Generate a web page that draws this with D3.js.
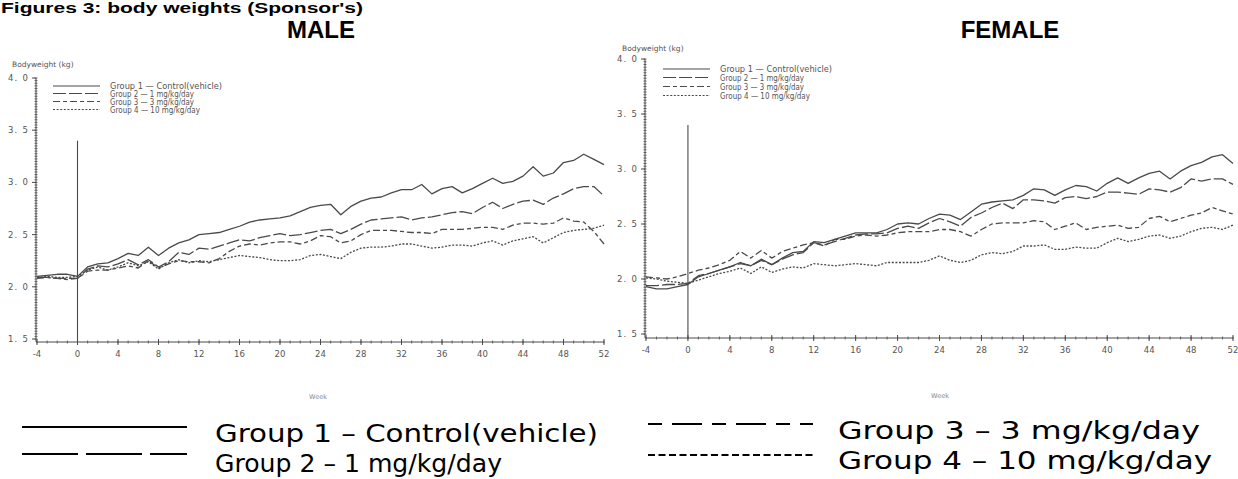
<!DOCTYPE html>
<html>
<head>
<meta charset="utf-8">
<script src="https://cdn.jsdelivr.net/npm/d3@7"></script>
<style>
  body { margin: 0; background: #fff; }
  svg { display: block; }
</style>
</head>
<body>
<svg id="chart" width="1238" height="479"></svg>
<script>
// ---- data -------------------------------------------------------------
const weeks = d3.range(-4, 53);                 // study weeks -4 .. 52
const xTickValues = d3.range(-4, 53, 4);
const yTickValues = [1.5, 2.0, 2.5, 3.0, 3.5, 4.0];
const groupLabels = [
  "Group 1 \u2014 Control(vehicle)",
  "Group 2 \u2014 1 mg/kg/day",
  "Group 3 \u2014 3 mg/kg/day",
  "Group 4 \u2014 10 mg/kg/day"
];
const bigLegendLabels = [
  "Group 1 \u2013 Control(vehicle)",
  "Group 2 \u2013 1 mg/kg/day",
  "Group 3 \u2013 3 mg/kg/day",
  "Group 4 \u2013 10 mg/kg/day"
];
const dosingStartWeek = 0;
const dosingMarkerTop = 3.4;

// male mean body weight (kg)
const maleG1 = [2.10,2.11,2.12,2.12,2.10, 2.19,2.22,2.23,2.27,2.32,2.30,2.38,2.30,2.37,2.42,2.45,2.50,2.51,2.52,2.55,2.58,2.62,2.64,2.65,2.66,2.68,2.72,2.76,2.78,2.79,2.69,2.77,2.82,2.85,2.86,2.90,2.93,2.93,2.98,2.89,2.94,2.96,2.90,2.94,2.99,3.04,2.99,3.01,3.06,3.15,3.06,3.09,3.19,3.21,3.27,3.22,3.17];
const maleG2 = [2.09,2.09,2.08,2.08,2.08, 2.17,2.20,2.19,2.22,2.26,2.21,2.26,2.19,2.24,2.33,2.31,2.37,2.36,2.39,2.42,2.45,2.44,2.47,2.49,2.51,2.49,2.50,2.52,2.54,2.55,2.51,2.55,2.60,2.64,2.65,2.66,2.67,2.64,2.66,2.67,2.69,2.71,2.72,2.70,2.76,2.81,2.75,2.79,2.82,2.83,2.79,2.85,2.89,2.94,2.96,2.96,2.87];
const maleG3 = [2.08,2.09,2.08,2.07,2.08, 2.15,2.16,2.16,2.18,2.20,2.18,2.25,2.18,2.22,2.25,2.24,2.24,2.23,2.27,2.34,2.39,2.41,2.40,2.42,2.43,2.43,2.41,2.44,2.49,2.48,2.42,2.44,2.50,2.54,2.54,2.54,2.53,2.52,2.52,2.51,2.55,2.55,2.55,2.56,2.57,2.57,2.55,2.59,2.61,2.61,2.60,2.61,2.66,2.63,2.62,2.53,2.41];
const maleG4 = [2.09,2.10,2.09,2.09,2.10, 2.16,2.19,2.16,2.19,2.23,2.20,2.24,2.17,2.23,2.26,2.23,2.25,2.24,2.26,2.28,2.30,2.29,2.28,2.26,2.25,2.25,2.26,2.30,2.31,2.29,2.27,2.33,2.37,2.38,2.38,2.39,2.41,2.41,2.39,2.37,2.38,2.40,2.40,2.39,2.42,2.44,2.40,2.44,2.46,2.48,2.42,2.47,2.52,2.54,2.55,2.56,2.59];

// female mean body weight (kg)
const femaleG1 = [1.93,1.91,1.91,1.93,1.95, 2.02,2.05,2.08,2.11,2.15,2.12,2.18,2.13,2.19,2.24,2.25,2.34,2.33,2.36,2.39,2.42,2.42,2.42,2.45,2.50,2.51,2.50,2.55,2.59,2.58,2.54,2.61,2.68,2.70,2.71,2.72,2.76,2.82,2.81,2.76,2.81,2.85,2.84,2.80,2.87,2.92,2.87,2.92,2.96,2.98,2.91,2.98,3.03,3.06,3.11,3.13,3.05];
const femaleG2 = [1.94,1.94,1.95,1.95,1.96, 2.03,2.05,2.08,2.11,2.14,2.12,2.17,2.13,2.18,2.22,2.24,2.33,2.31,2.34,2.37,2.40,2.41,2.41,2.42,2.46,2.48,2.46,2.51,2.55,2.52,2.48,2.56,2.60,2.65,2.69,2.64,2.72,2.72,2.71,2.69,2.74,2.75,2.73,2.75,2.79,2.79,2.78,2.77,2.82,2.81,2.79,2.83,2.91,2.89,2.91,2.91,2.86];
const femaleG3 = [2.02,2.01,2.00,2.02,2.05, 2.08,2.10,2.13,2.17,2.25,2.19,2.26,2.19,2.25,2.28,2.31,2.33,2.30,2.36,2.36,2.39,2.40,2.39,2.40,2.42,2.43,2.43,2.43,2.45,2.45,2.43,2.39,2.45,2.50,2.51,2.51,2.51,2.53,2.52,2.45,2.48,2.51,2.45,2.47,2.48,2.49,2.46,2.47,2.55,2.57,2.52,2.55,2.58,2.60,2.65,2.62,2.59];
const femaleG4 = [2.01,2.00,1.98,1.97,1.96, 1.99,2.02,2.05,2.07,2.10,2.05,2.11,2.06,2.09,2.11,2.10,2.14,2.13,2.12,2.13,2.14,2.13,2.12,2.15,2.15,2.15,2.15,2.17,2.21,2.17,2.15,2.17,2.22,2.24,2.23,2.25,2.30,2.30,2.31,2.27,2.27,2.29,2.28,2.28,2.33,2.37,2.34,2.36,2.39,2.40,2.37,2.39,2.43,2.46,2.47,2.45,2.49];

// ---- styles -----------------------------------------------------------
const ink = "#4a4a4a";
const dashes = [null, "13,3", "7,3,4,3", "2,1.6"];
const bigDashes = [null, "56,8", "14,10,30,10", "7,3.5"];
const tickFont = "'DejaVu Sans', sans-serif";

const svg = d3.select("#chart");

// page title along the top edge of the sheet
svg.append("text")
  .attr("x", 1).attr("y", 13)
  .attr("font-family", "'Liberation Sans', Arial, sans-serif")
  .attr("font-weight", "bold").attr("font-size", 14)
  .attr("textLength", 362).attr("lengthAdjust", "spacingAndGlyphs")
  .text("Figures 3: body weights (Sponsor's)");

// ---- one panel --------------------------------------------------------
function drawPanel(p) {
  const g = svg.append("g");
  const x = d3.scaleLinear().domain([-4, 52]).range([p.x0, p.x1]);
  const y = d3.scaleLinear().domain([1.5, 4.0]).range([p.yBottom, p.yTop]);
  const axisY = p.yBottom + p.axisGap;

  g.append("text")
    .attr("x", p.headerX).attr("y", 37.5)
    .attr("text-anchor", "middle")
    .attr("font-family", "'Liberation Sans', Arial, sans-serif")
    .attr("font-weight", "bold").attr("font-size", 24)
    .attr("fill", "#000")
    .text(p.title);

  // y axis: major ticks with labels, dense minor ticks
  g.append("line")
    .attr("x1", p.x0 - 1).attr("x2", p.x0 - 1)
    .attr("y1", y(4.0)).attr("y2", axisY)
    .attr("stroke", ink).attr("stroke-width", 1);
  const minorY = d3.range(1.5, 4.0001, 0.025);
  g.selectAll(".ymin").data(minorY).join("line")
    .attr("x1", p.x0 - 2.5).attr("x2", p.x0 + 0.5)
    .attr("y1", d => y(d)).attr("y2", d => y(d))
    .attr("stroke", ink).attr("stroke-width", 0.8);
  g.selectAll(".ymaj").data(yTickValues).join("line")
    .attr("x1", p.x0 - 5).attr("x2", p.x0 - 1)
    .attr("y1", d => y(d)).attr("y2", d => y(d))
    .attr("stroke", ink).attr("stroke-width", 1);
  g.selectAll(".ylab").data(yTickValues).join("text")
    .attr("x", p.x0 - 8).attr("y", d => y(d) + 3)
    .attr("text-anchor", "end")
    .attr("font-family", tickFont).attr("font-size", 8.5)
    .attr("letter-spacing", 1.2)
    .attr("fill", "#555")
    .text(d => d3.format(".1f")(d).replace(".", ". "));

  g.append("text")
    .attr("x", p.yLabelX).attr("y", p.yLabelY)
    .attr("font-family", tickFont).attr("font-size", 7.5)
    .attr("fill", "#555")
    .text("Bodyweight (kg)");

  // x axis: a tick every week, labels every 4 weeks
  g.append("line")
    .attr("x1", p.x0 - 1).attr("x2", p.x1)
    .attr("y1", axisY).attr("y2", axisY)
    .attr("stroke", ink).attr("stroke-width", 1);
  g.selectAll(".xmin").data(weeks).join("line")
    .attr("x1", d => x(d)).attr("x2", d => x(d))
    .attr("y1", axisY - 1.5).attr("y2", axisY + 1.5)
    .attr("stroke", ink).attr("stroke-width", 0.8);
  g.selectAll(".xmaj").data(xTickValues).join("line")
    .attr("x1", d => x(d)).attr("x2", d => x(d))
    .attr("y1", axisY - 3).attr("y2", axisY + 3)
    .attr("stroke", ink).attr("stroke-width", 1);
  g.selectAll(".xlab").data(xTickValues).join("text")
    .attr("x", d => x(d)).attr("y", axisY + 15)
    .attr("text-anchor", "middle")
    .attr("font-family", tickFont).attr("font-size", 8.5)
    .attr("fill", "#555")
    .text(d => String(d));

  g.append("text")
    .attr("x", p.weekX).attr("y", p.weekY)
    .attr("text-anchor", "middle")
    .attr("font-family", tickFont).attr("font-size", 6.5)
    .attr("fill", "#888")
    .text("Week");

  // start-of-dosing marker
  g.append("line")
    .attr("x1", x(dosingStartWeek)).attr("x2", x(dosingStartWeek))
    .attr("y1", y(dosingMarkerTop)).attr("y2", axisY)
    .attr("stroke", ink).attr("stroke-width", 1.1);

  // series
  const line = d3.line().x((d, i) => x(weeks[i])).y(d => y(d));
  p.series.forEach((vals, i) => {
    g.append("path")
      .attr("d", line(vals))
      .attr("fill", "none")
      .attr("stroke", ink).attr("stroke-width", 1.3)
      .attr("stroke-linejoin", "round")
      .attr("stroke-dasharray", dashes[i]);
  });

  // in-plot legend
  groupLabels.forEach((lab, i) => {
    const ly = p.legendY[i];
    g.append("line")
      .attr("x1", p.legendX).attr("x2", p.legendX + 47)
      .attr("y1", ly).attr("y2", ly)
      .attr("stroke", ink).attr("stroke-width", 1.2)
      .attr("stroke-dasharray", dashes[i]);
    g.append("text")
      .attr("x", p.legendX + 57).attr("y", ly + 3)
      .attr("font-family", tickFont).attr("font-size", 8)
      .attr("textLength", [112, 84, 84, 90][i]).attr("lengthAdjust", "spacingAndGlyphs")
      .attr("fill", "#555")
      .text(lab);
  });
}

drawPanel({
  title: "MALE", headerX: 321,
  x0: 37, x1: 604, yTop: 78, yBottom: 339, axisGap: 3,
  series: [maleG1, maleG2, maleG3, maleG4],
  yLabelX: 12, yLabelY: 67,
  legendX: 53, legendY: [86, 93.5, 101.5, 109.5],
  weekX: 318, weekY: 399
});

drawPanel({
  title: "FEMALE", headerX: 1010,
  x0: 646, x1: 1233, yTop: 59, yBottom: 334, axisGap: 4,
  series: [femaleG1, femaleG2, femaleG3, femaleG4],
  yLabelX: 622, yLabelY: 51,
  legendX: 663, legendY: [69, 77.5, 86.5, 95.5],
  weekX: 940, weekY: 398
});

// ---- enlarged legend under the panels ------------------------------------
const bigLegend = [
  { lx: 22, ly: 427, tx: 215, ty: 442, w: 383 },
  { lx: 22, ly: 454, tx: 215, ty: 472, w: 287 },
  { lx: 648, ly: 424, tx: 838, ty: 439, w: 362 },
  { lx: 648, ly: 455, tx: 838, ty: 469, w: 374 }
];
bigLegend.forEach((b, i) => {
  svg.append("line")
    .attr("x1", b.lx).attr("x2", b.lx + 165)
    .attr("y1", b.ly).attr("y2", b.ly)
    .attr("stroke", "#000").attr("stroke-width", 2.2)
    .attr("stroke-dasharray", bigDashes[i]);
  svg.append("text")
    .attr("x", b.tx).attr("y", b.ty)
    .attr("font-family", "'DejaVu Sans Condensed', 'DejaVu Sans', sans-serif")
    .attr("font-size", 25)
    .attr("textLength", b.w).attr("lengthAdjust", "spacingAndGlyphs")
    .attr("fill", "#000")
    .text(bigLegendLabels[i]);
});
</script>
</body>
</html>
